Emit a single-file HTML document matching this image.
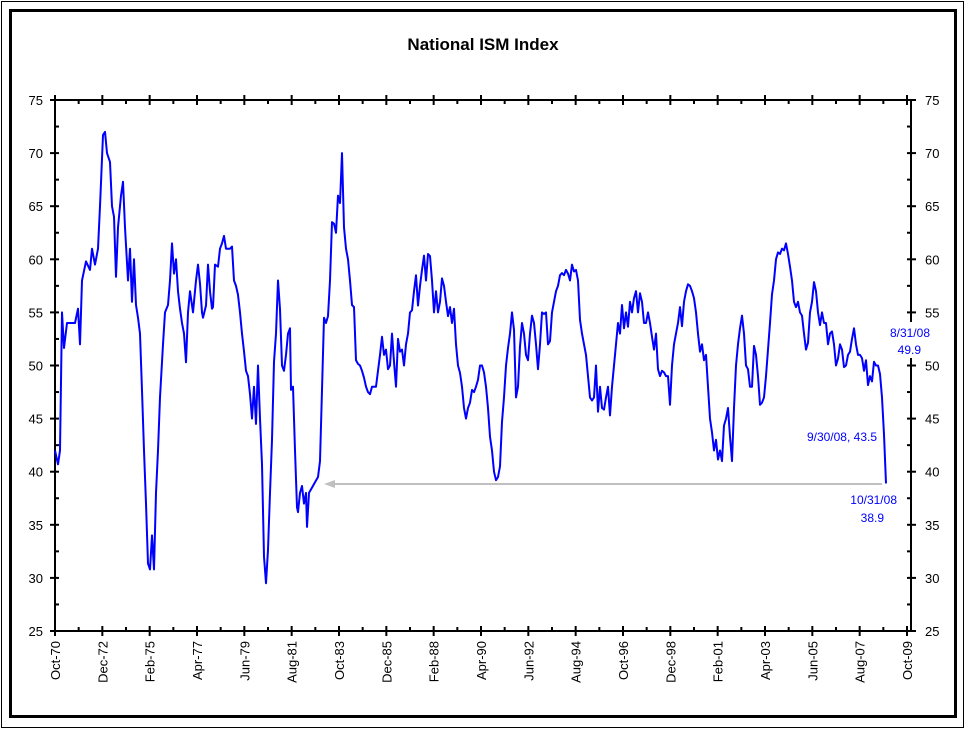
<!DOCTYPE html>
<html><head><meta charset="utf-8"><style>
html,body{margin:0;padding:0;background:#fff;}
svg{display:block;font-family:"Liberation Sans",Arial,sans-serif;}
</style></head><body>
<svg id="s" width="966" height="730" viewBox="0 0 966 730" xmlns="http://www.w3.org/2000/svg">
<rect x="0" y="0" width="966" height="730" fill="#fff"/>
<rect x="1.5" y="1.5" width="962" height="726" fill="none" stroke="#000" stroke-width="1"/>
<rect x="10.5" y="10.5" width="945" height="706" fill="none" stroke="#000" stroke-width="3"/>
<text x="483" y="50" text-anchor="middle" font-size="17" font-weight="bold">National ISM Index</text>
<g id="axes" stroke="#000" stroke-width="2" fill="none"></g>
<g id="labels" font-size="13" fill="#000"></g>
<line x1="333" y1="484" x2="882" y2="484" stroke="#c0c0c0" stroke-width="2"/>
<polygon points="324,484 335,480 335,488" fill="#c0c0c0"/>
<polyline id="line" fill="none" stroke="#0000ff" stroke-width="2" stroke-linejoin="round"/>
<rect x="884" y="322" width="48" height="36" fill="#fff"/>
<g font-size="12" fill="#0000ff" text-anchor="end">
<text x="930" y="337">8/31/08</text>
<text x="921" y="354">49.9</text>
<text x="877" y="441">9/30/08, 43.5</text>
<text x="897" y="504">10/31/08</text>
<text x="884" y="522">38.9</text>
</g>
</svg>
<script>
var L=55,R=911,T=100,B=631,X0=55,X1=907;
function Y(v){return B-(v-25)*(B-T)/50;}
var ax=document.getElementById('axes'),lb=document.getElementById('labels'),ns="http://www.w3.org/2000/svg";
function ln(a,b,c,d){var e=document.createElementNS(ns,'line');e.setAttribute('x1',a);e.setAttribute('y1',b);e.setAttribute('x2',c);e.setAttribute('y2',d);ax.appendChild(e);}
function tx(x,y,s,anc,rot){var e=document.createElementNS(ns,'text');e.setAttribute('x',x);e.setAttribute('y',y);e.textContent=s;if(anc)e.setAttribute('text-anchor',anc);if(rot)e.setAttribute('transform','rotate(-90 '+x+' '+y+')');lb.appendChild(e);}
ln(L,T,R,T);ln(L,B,R,B);ln(L,T,L,B);ln(R,T,R,B);
for(var v=25;v<=75;v+=2.5){var y=Y(v);if(v%5==0){ln(L-5,y,L+4,y);ln(R-4,y,R+5,y);tx(L-12,y+5,v,'end');tx(R+14,y+5,v,'start');}else{ln(L,y,L+4,y);ln(R-4,y,R,y);}}
var labs=["Oct-70","Dec-72","Feb-75","Apr-77","Jun-79","Aug-81","Oct-83","Dec-85","Feb-88","Apr-90","Jun-92","Aug-94","Oct-96","Dec-98","Feb-01","Apr-03","Jun-05","Aug-07","Oct-09"];
var st=(X1-X0)/18;
for(var i=0;i<=18;i++){var x=X0+i*st;ln(x,B-5,x,B+5);ln(x,T-5,x,T+5);tx(x+5,B+10,labs[i],'end',1);if(i<18){var m=x+st/2;ln(m,B-4,m,B);ln(m,T,m,T+4);}}
var d=[55,42,58,40,60,42,62,55,64,52,67,54,75,54,78,55,80,52,82,58,86,60.5,90,59,92,61,95,59.5,98,61,100,65,103,71,105,72,107,70,110,69.5,112,65,114,64,116,58,118,63,121,66,123,68,125,63,128,58,130,61,132,56,134,60,136,55,138,54.5,140,53,142,48,144,42,146,37,148,31,150,30.8,152,34,154,31.5,156,38,158,42,160,47,163,52,165,55,168,55,170,58,172,61.5,174,59,176,60,178,57,180,55,182,54,184,53,186,51,188,55,190,57,193,55,196,58,198,59.5,200,57,202,55,203,54.5,206,56,208,59.5,210,57,212,55,213,55.5,215,59.5,218,60,220,61,222,61.5,224,62.2,226,61,230,61,232,60.5,234,58,236,57.5,238,57,240,55,242,53,244,51,246,49.5,248,49,250,48,252,45,254,48,256,44.5,258,50,260,45,262,40,264,32,266,29.5,268,33,270,38,272,43,274,50,276,53,278,58,280,56,282,50,284,49.5,286,51,288,53,290,53.5,291,47,293,48,295,42,297,37,298,36.2,300,38,302,38.3,304,37,306,38,307,35.5,309,38,312,38.5,315,39,318,39.5,320,41,322,47,324,54.5,326,54,328,55,330,58,332,63.5,334,63,336,62.5,338,66,340,66,342,70,344,63,346,61,348,60,350,58,352,55,354,55.5,356,50.5,358,50.5,360,50,362,49.5,364,48.5,366,48,368,47.5,370,48,372,48,374,48,376,48,378,49.5,380,51,382,52,384,51,386,51.5,388,50,390,50,392,53,394,50,396,48,398,52.5,400,52,402,51.5,404,50,406,52,408,53,410,55,412,54.5,414,57,416,58.5,418,56,420,57.5,422,59,424,60,426,58,428,60.5,430,61,432,58,434,55,436,57,438,55,440,56,442,57.5,444,57.5,446,56,448,55,450,55.5,452,54,454,55,456,52,458,50,460,50,462,48,464,46,466,45,468,46,470,46.5,472,47,474,47.5,476,48,478,49,480,50,482,50,484,49,486,48,488,46,490,44,492,42,494,40,496,39.2,498,39.5,500,40.5,502,44,504,47,506,50,508,52,510,53,512,55,514,53,516,47,518,48,520,52.5,522,54,524,53,526,51,528,50.5,530,53,532,54,534,54,536,52,538,50,540,52,542,55,544,54.5,546,55,548,52,550,53,552,55,554,56,556,57,558,57.5,560,58.5,562,58,564,58.5,566,59,568,59,570,58,572,59.5,574,58.5,576,59,578,58,580,55,582,53,584,52,586,51,588,49,590,47,592,46,594,47,596,50,598,46,600,48,602,46,604,45.5,606,47,608,48,610,46,612,48,614,50,616,52,618,54,620,53,622,55,624,53.5,626,55,628,54,630,56,632,55,634,56,636,57,638,55,640,57.5,642,56,644,54,646,54,648,55,650,54,652,52,654,51.5,656,53,658,50,660,49,662,49.5,664,49,666,49,668,49,670,47,672,50,674,52,676,53,678,54,680,55.5,682,53,684,56,686,57,688,58,690,57.5,692,57,694,56,696,55,698,53,700,52,702,52,704,50.5,706,51,708,48,710,45,712,43,714,42,716,43,718,41.5,720,42,722,41,724,44,726,45,728,46,730,44,732,41,734,46,736,50,738,52,740,53.5,742,54,744,53,746,50,748,50,750,48,752,48,754,51.5,756,51,758,49,760,47,762,46.5,764,47,766,49,768,51.5,770,54,772,56,774,58,776,60,778,61,780,60.5,782,61,784,60.5,786,61.5,788,60.5,790,60,792,58,794,56,796,55.5,798,56,800,55,802,54,804,53,806,51.5,808,52.5,810,55,812,56,814,57.5,816,57,818,55,820,54.5,822,55,824,54,826,54,828,52,830,53,832,52.5,834,52,836,50,838,51,840,52,842,51.5,844,49.5,846,50,848,51,850,52,852,52.5,854,53.5,856,52,858,51,860,51,862,50,864,49.5,866,50.5,868,48.5,870,49,872,48.5,874,50,876,50,878,50,880,49.9,882,47,884,43.5,886,38.9];
var p=[];for(var i=0;i<d.length;i+=2){var j=(i/2)%3==1?((i*7)%5-2)*0.35:0;if(d[i]>880)j=0;p.push(d[i]+','+Y(d[i+1]+j).toFixed(1));}
document.getElementById('line').setAttribute('points',p.join(' '));
</script>
</body></html>
